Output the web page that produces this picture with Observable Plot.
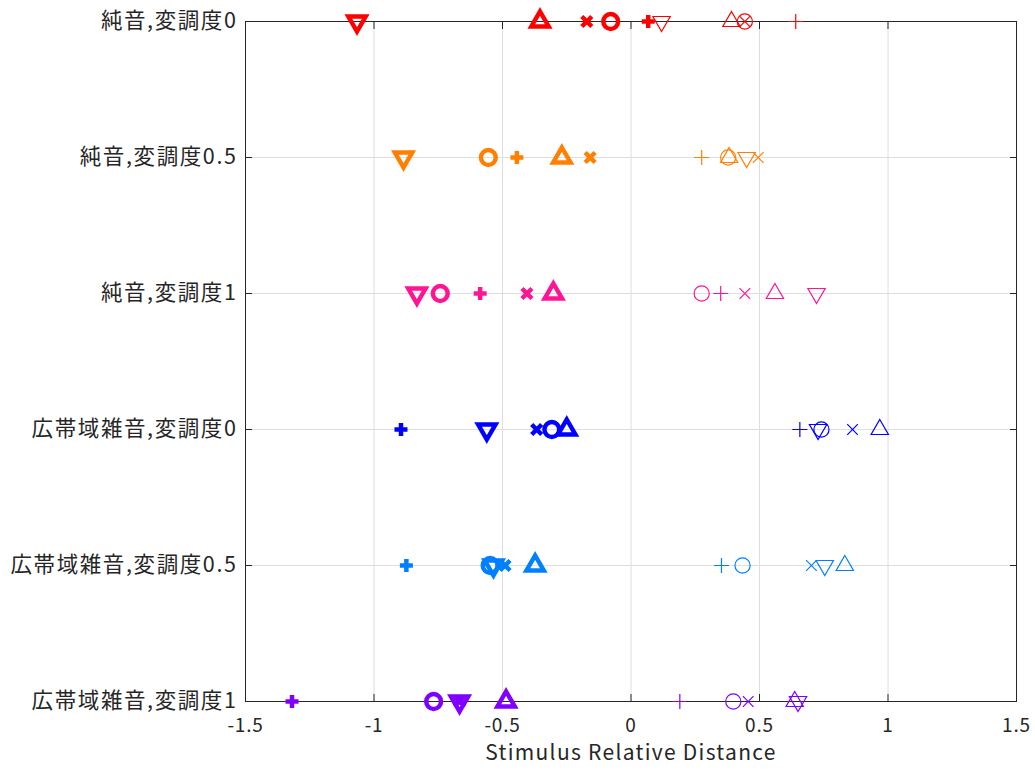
<!DOCTYPE html>
<html>
<head>
<meta charset="utf-8">
<script src="https://cdn.jsdelivr.net/npm/d3@7"></script>
<script src="https://cdn.jsdelivr.net/npm/@observablehq/plot@0.6"></script>
<style>
  body { margin: 0; background: #fff; }
</style>
</head>
<body>
<div id="chart"></div>
<script>
// Stimulus conditions (top to bottom) and their colours
const conditions = [
  "純音,変調度0",
  "純音,変調度0.5",
  "純音,変調度1",
  "広帯域雑音,変調度0",
  "広帯域雑音,変調度0.5",
  "広帯域雑音,変調度1"
];
const colors = ["#ff0000", "#ff8000", "#ff1493", "#0000ff", "#0080ff", "#8000ff"];
const xTicks = [-1.5, -1, -0.5, 0, 0.5, 1, 1.5];

// Heavy markers: one value per condition
const plusBold    = [0.067, -0.444, -0.587, -0.895, -0.874, -1.319];
const circleBold  = [-0.079, -0.555, -0.742, -0.308, -0.548, -0.768];
const timesBold   = [-0.172, -0.159, -0.405, -0.367, -0.490, -0.667];
const triUpBold   = [-0.354, -0.269, -0.302, -0.250, -0.373, -0.486];
const triDownBold = [-1.066, -0.885, -0.833, -0.561, -0.535, -0.667];

// Light markers: one value per condition
const plusThin    = [0.641, 0.275, 0.349, 0.657, 0.352, 0.190];
const circleThin  = [0.443, 0.378, 0.275, 0.741, 0.434, 0.398];
const timesThin   = [0.443, 0.495, 0.443, 0.862, 0.702, 0.456];
const triUpThin   = [0.391, 0.382, 0.560, 0.968, 0.832, 0.637];
const triDownThin = [0.119, 0.450, 0.722, 0.728, 0.754, 0.650];

// Outline marker shapes; r is the marker's half-extent
const shapes = {
  circle: (c, r) => { c.moveTo(r, 0); c.arc(0, 0, r, 0, 2 * Math.PI); },
  plus: (c, r) => { c.moveTo(-r, 0); c.lineTo(r, 0); c.moveTo(0, -r); c.lineTo(0, r); },
  times: (c, r) => { c.moveTo(-r, -r); c.lineTo(r, r); c.moveTo(-r, r); c.lineTo(r, -r); },
  triUp: (c, r) => {
    const h = r * Math.sqrt(3) / 2;
    c.moveTo(0, -r); c.lineTo(h, r / 2); c.lineTo(-h, r / 2); c.closePath();
  },
  triDown: (c, r) => {
    const h = r * Math.sqrt(3) / 2;
    c.moveTo(0, r); c.lineTo(h, -r / 2); c.lineTo(-h, -r / 2); c.closePath();
  }
};
const symbolOf = (draw) => ({ draw(context, size) { draw(context, Math.sqrt(size / Math.PI)); } });

const rows = (values) => values.map((value, i) => ({ condition: conditions[i], value }));

const series = [
  { values: triDownThin, shape: "triDown", r: 10, w: 1.2 },
  { values: triUpThin,   shape: "triUp",   r: 10, w: 1.2 },
  { values: circleThin,  shape: "circle",  r: 7.6, w: 1.2 },
  { values: timesThin,   shape: "times",   r: 5.3, w: 1.2 },
  { values: plusThin,    shape: "plus",    r: 7.5, w: 1.2 },
  { values: triDownBold, shape: "triDown", r: 10, w: 4.5 },
  { values: triUpBold,   shape: "triUp",   r: 10, w: 4.5 },
  { values: circleBold,  shape: "circle",  r: 7.4, w: 4.5 },
  { values: timesBold,   shape: "times",   r: 5.0, w: 4.5 },
  { values: plusBold,    shape: "plus",    r: 6.5, w: 4.5 }
];

const ink = "#262626";

const chart = Plot.plot({
  width: 1035,
  height: 773,
  marginLeft: 245,
  marginRight: 19,
  marginTop: 21,
  marginBottom: 72,
  style: { fontFamily: "'Noto Sans CJK JP', 'Noto Sans', sans-serif", fontSize: "19px", color: ink, background: "#fff" },
  x: { domain: [-1.5, 1.5] },
  y: { type: "point", domain: conditions, padding: 0 },
  color: { domain: conditions, range: colors },
  marks: [
    Plot.gridX(xTicks, { stroke: "#dedede", strokeOpacity: 1 }),
    Plot.gridY(conditions, { stroke: "#dedede", strokeOpacity: 1 }),
    Plot.frame({ stroke: ink }),
    // inward tick marks on all four sides
    Plot.axisX(xTicks, { anchor: "bottom", tickSize: -7, fill: "none", stroke: ink, label: null }),
    Plot.axisX(xTicks, { anchor: "top", tickSize: -7, fill: "none", stroke: ink, label: null }),
    Plot.axisY(conditions, { anchor: "left", tickSize: -7, fill: "none", stroke: ink, label: null }),
    Plot.axisY(conditions, { anchor: "right", tickSize: -7, fill: "none", stroke: ink, label: null }),
    // tick labels
    Plot.axisX(xTicks, {
      anchor: "bottom", tickSize: 0, tickPadding: 13, dy: 4, tickFormat: (d) => String(d),
      fill: ink, label: null, fontSize: 19
    }),
    Plot.axisY(conditions, {
      anchor: "left", tickSize: 0, tickPadding: 8, fill: ink, label: null, fontSize: 21.5
    }),
    Plot.text(["Stimulus Relative Distance"], {
      text: (d) => d, frameAnchor: "bottom", dy: 58, fill: ink, fontSize: 21
    }),
    ...series.map((s) =>
      Plot.dot(rows(s.values), {
        x: "value",
        y: "condition",
        stroke: "condition",
        fill: "none",
        symbol: symbolOf(shapes[s.shape]),
        r: s.r,
        strokeWidth: s.w,
        strokeLinejoin: "miter",
        strokeLinecap: "butt"
      })
    )
  ]
});

// letter spacing for the tick labels and the x axis title
chart.querySelectorAll("[aria-label='y-axis tick label'] text").forEach((t) => t.setAttribute("letter-spacing", "1.6"));
chart.querySelectorAll("[aria-label='text'] text").forEach((t) => t.setAttribute("letter-spacing", "1.3"));
chart.querySelectorAll("[aria-label='x-axis tick label'] text").forEach((t) => t.setAttribute("letter-spacing", "0.8"));

document.getElementById("chart").append(chart);
</script>
</body>
</html>
